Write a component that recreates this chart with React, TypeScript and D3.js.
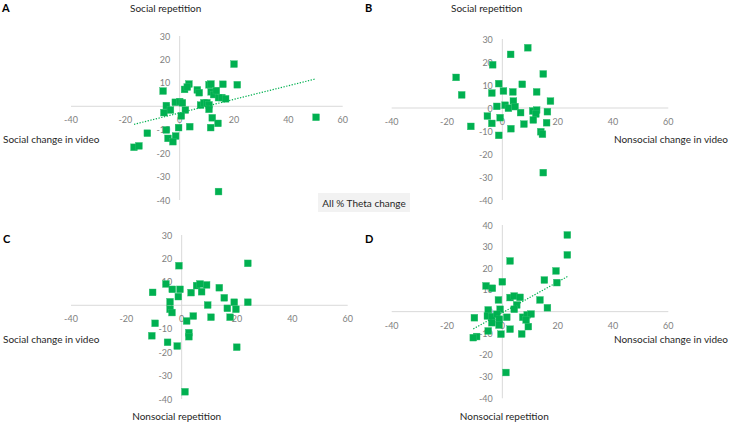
import React from "react";
import * as d3 from "d3";

// ---------- data ----------
const xTicks = [-40, -20, 0, 20, 40, 60];
const yTicksABC = [30, 20, 10, 0, -10, -20, -30, -40];
const yTicksD = [40, 30, 20, 10, 0, -10, -20, -30, -40];

const panelAx = [20, 21.2, -6.1, 1.8, 3.4, 2.8, 6.5, 7.2, 10.8, 11.5, 11.6, 12.5, 13.5, 15.9, 14.3, 15.5, 16.9, -4.9, -1.6, 0, 1, 7.7, 8.9, 10, 10.8, 10.8, -5.8, -3.4, 2.1, 0.6, 12, 14.1, 11.4, 3.7, -0.4, -11.9, -4.9, -4.3, -1.5, -2.5, -16.8, -15, 50.2, 14.3];
const panelAy = [18, 9.2, 6.5, 7.2, 9.5, 8.2, 7.0, 5.8, 9.2, 9.5, 6.2, 5.0, 6.7, 9.4, 3.7, 3.7, 3.2, 0.3, 1.7, 2.0, 1.5, 0.5, 1.5, 1.5, 0.6, -1.3, -2.7, -1.6, -1.6, -4.1, -4.9, -7.3, -9.1, -8.7, -9.1, -11.5, -10.1, -13.7, -12.7, -15.1, -17.5, -16.9, -4.7, -36.4];

const panelBx = [9.2, 3.0, -3.5, -16.7, 14.8, -14.7, -1.3, -3.8, 0.4, 3.8, 7.2, 12.4, 17.4, 4, 1, 2.2, 4.6, -2, 6.6, 11, 12.4, 12.1, 11.2, 16.3, -5.4, -0.8, -3.8, 7.8, 16, -11.4, 3.1, -1.3, 13.9, 14.5, 14.8];
const panelBy = [26.2, 23.3, 18.8, 13.3, 14.8, 5.7, 10.6, 6.5, 7.4, 7.0, 10.3, 7.0, 3.0, 3.0, 1.2, -0.1, 0.6, 0.7, -2, -1.3, -0.9, -2.6, -5.2, -1.6, -3.5, -4.2, -6.7, -7, -6.4, -8, -9, -11.9, -10.3, -11.4, -28.1];

const panelCx = [23.9, -1, -10.5, -5.7, -3.4, -0.6, -1.2, 3.4, 5.4, 6.6, 7.2, 9, 13.6, 15.4, 19, 23.9, 9.4, 16.5, 19.6, 17.5, 10.6, 4.2, 1.8, -4.2, -4.2, -3.5, -9.6, -10.8, 2.6, 2.6, -5.1, -1.6, 19.9, 1.2];
const panelCy = [17.9, 16.9, 5.5, 9.1, 6.8, 6.8, 3.7, 5.4, 8.4, 9.1, 5.8, 8.7, 7.5, 3.2, 1.3, 1.3, 0.1, -1.3, -1.7, -5.1, -5.1, -4.6, -6.7, 1.5, -1.7, -3.1, -7.7, -13, -11.7, -13.4, -15.8, -17.4, -17.9, -36.9];

const panelDx = [23.5, 23.5, 2.8, 19.4, 19.7, 15.2, 0, -5.9, -3.6, -1.4, 2.8, 4.3, 6.4, 13.6, 16.3, 5.2, 4.3, -5.1, -0.8, -10.1, -5.4, -3.8, -2, -1.1, -3.8, 1.6, 7.4, 9, 10.4, 8.6, 9.4, -1.2, -5.1, 2.8, 7, -0.5, -9.3, -10.5, 1.3];
const panelDy = [35.4, 26.2, 23.4, 18.8, 13.4, 14.6, 13.8, 11.9, 10.8, 5.4, 6.5, 7.2, 6.6, 5.4, 1.8, 3.1, 1.1, 0.8, 1.1, -2.8, -2, -2.3, -1.2, -3.5, -5.1, -2.6, -2.6, -1.5, -1.1, -3.8, -6.9, -6.2, -8.9, -8.1, -10.3, -10.4, -11.5, -12, -28.1];

// trendlines: [slope, intercept] (null = none)
const trendA = [0.29, -2.83];
const trendD = [0.71, -0.5];

const FONT = "Lato, 'Open Sans', sans-serif";
const GREEN = "#00b050";

type Panel = {
  letter: string;
  xs: number[];
  ys: number[];
  yTicks: number[];
  yDomain: [number, number];
  xRange: [number, number];
  yRange: [number, number];
  trend: number[] | null;
  letterPos: [number, number];
};

const panels: Panel[] = [
  { letter: "A", xs: panelAx, ys: panelAy, yTicks: yTicksABC, yDomain: [-40, 30], xRange: [71, 342.7], yRange: [200, 36], trend: trendA, letterPos: [2, 11.5] },
  { letter: "B", xs: panelBx, ys: panelBy, yTicks: yTicksABC, yDomain: [-40, 30], xRange: [391.7, 668.3], yRange: [200, 39], trend: null, letterPos: [365, 11.5] },
  { letter: "C", xs: panelCx, ys: panelCy, yTicks: yTicksABC, yDomain: [-40, 30], xRange: [71, 347.7], yRange: [399, 235], trend: null, letterPos: [3, 243] },
  { letter: "D", xs: panelDx, ys: panelDy, yTicks: yTicksD, yDomain: [-40, 40], xRange: [391.7, 668.3], yRange: [398.3, 225], trend: trendD, letterPos: [365, 243] },
];

function PanelView({ p }: { p: Panel }) {
  const x = d3.scaleLinear().domain([-40, 60]).range(p.xRange);
  const y = d3.scaleLinear().domain(p.yDomain).range(p.yRange);
  const x0 = x(0);
  const y0 = y(0);
  const ext = d3.extent(p.xs) as [number, number];
  const line = d3.line<number>().x((v) => x(v)).y((v) => y(p.trend ? p.trend[0] * v + p.trend[1] : 0));
  return (
    <g>
      <line x1={x(-40)} x2={x(60)} y1={y0} y2={y0} stroke="#d9d9d9" strokeWidth={1} />
      <line x1={x0} x2={x0} y1={y(p.yDomain[0])} y2={y(p.yDomain[1])} stroke="#d9d9d9" strokeWidth={1} />
      {xTicks.map((t) => (
        <text key={"x" + t} x={x(t)} y={y0 + 13.5} textAnchor="middle" dominantBaseline="central" fontFamily={FONT} fontSize={9} fill="#7f7f7f">
          {t}
        </text>
      ))}
      {p.yTicks.map((t) => (
        <text key={"y" + t} x={x0 - 9.5} y={y(t)} textAnchor="end" dominantBaseline="central" fontFamily={FONT} fontSize={9} fill="#7f7f7f">
          {t}
        </text>
      ))}
      {p.xs.map((v, i) => (
        <rect key={i} x={x(v) - 3.4} y={y(p.ys[i]) - 3.4} width={6.8} height={6.8} fill={GREEN} stroke="#2fc070" strokeWidth={0.4} />
      ))}
      {p.trend && (
        <path d={line(ext) || ""} fill="none" stroke={GREEN} strokeWidth={1.2} strokeDasharray="1.3 1.5" />
      )}
      <text x={p.letterPos[0]} y={p.letterPos[1]} fontFamily={FONT} fontWeight="bold" fontSize={11} fill="#000">
        {p.letter}
      </text>
    </g>
  );
}

export default function App() {
  const label = { fontFamily: FONT, fontSize: 10, fill: "#262626" } as const;
  return (
    <svg width={730} height={423} style={{ position: "absolute", left: 0, top: 0, background: "#fff" }}>
      <rect x={0} y={0} width={730} height={423} fill="#fff" />
      {panels.map((p) => (
        <PanelView key={p.letter} p={p} />
      ))}
      <text x={165.7} y={8} textAnchor="middle" dominantBaseline="central" {...label}>Social repetition</text>
      <text x={486.7} y={8} textAnchor="middle" dominantBaseline="central" {...label}>Social repetition</text>
      <text x={3} y={139} dominantBaseline="central" {...label}>Social change in video</text>
      <text x={728} y={139} textAnchor="end" dominantBaseline="central" {...label}>Nonsocial change in video</text>
      <text x={3} y={339} dominantBaseline="central" {...label}>Social change in video</text>
      <text x={728} y={339} textAnchor="end" dominantBaseline="central" {...label}>Nonsocial change in video</text>
      <text x={176.7} y={416} textAnchor="middle" dominantBaseline="central" {...label}>Nonsocial repetition</text>
      <text x={504.3} y={416} textAnchor="middle" dominantBaseline="central" {...label}>Nonsocial repetition</text>
      <rect x={318} y={193} width={92} height={19} fill="#f2f2f2" />
      <text x={364} y={202.5} textAnchor="middle" dominantBaseline="central" {...label}>All % Theta change</text>
    </svg>
  );
}
